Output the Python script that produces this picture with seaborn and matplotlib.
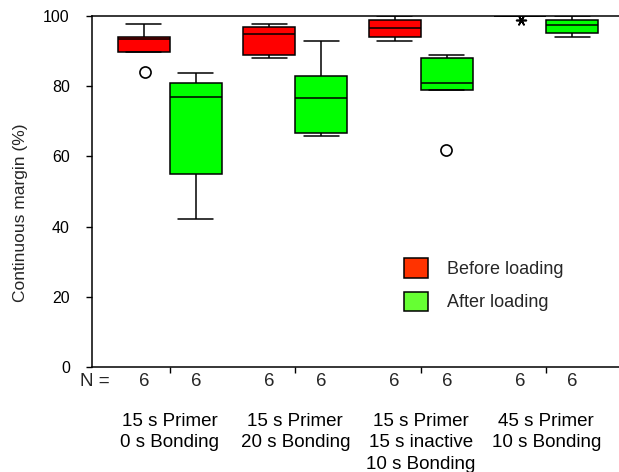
import numpy as np
import pandas as pd
import matplotlib
matplotlib.use("Agg")
import matplotlib.pyplot as plt
import matplotlib.transforms as mtransforms
import seaborn as sns

# ---- data ----
groups = ["15 s Primer\n0 s Bonding", "15 s Primer\n20 s Bonding",
          "15 s Primer\n15 s inactive\n10 s Bonding", "45 s Primer\n10 s Bonding"]
phases = ["Before loading", "After loading"]
n_per_box = [6, 6, 6, 6]

before_min = [89.8, 88.1, 93.0, 100.0]
before_q1 = [89.8, 88.9, 93.9, 100.0]
before_med = [93.4, 95.0, 96.5, 100.0]
before_q3 = [94.1, 96.8, 98.9, 100.0]
before_max = [97.8, 97.8, 100.0, 100.0]

after_min = [42.1, 65.9, 79.0, 94.0]
after_q1 = [55.0, 66.8, 79.0, 95.1]
after_med = [77.0, 76.5, 80.8, 97.5]
after_q3 = [80.8, 82.8, 88.1, 98.9]
after_max = [83.8, 93.0, 88.8, 100.0]

# outliers (circles) and extremes (asterisks)
out_group = [groups[0], groups[2]]
out_phase = ["Before loading", "After loading"]
out_value = [84.0, 61.8]
ext_group = [groups[3]]
ext_phase = ["Before loading"]
ext_value = [98.9]

# ---- build long table: five-number summary per box ----
rows = []
for i, g in enumerate(groups):
    for ph, arrs in (("Before loading", (before_min, before_q1, before_med, before_q3, before_max)),
                     ("After loading", (after_min, after_q1, after_med, after_q3, after_max))):
        for a in arrs:
            rows.append({"group": g, "phase": ph, "value": a[i]})
df = pd.DataFrame(rows)
df_out = pd.DataFrame({"group": out_group, "phase": out_phase, "value": out_value})
df_ext = pd.DataFrame({"group": ext_group, "phase": ext_phase, "value": ext_value})

sns.set_style("ticks")
plt.rcParams["font.family"] = ["Liberation Sans", "DejaVu Sans"]

fig = plt.figure(figsize=(6.19, 4.72), dpi=100)
ax = fig.add_axes([92 / 619, 105 / 472, 527 / 619, 351 / 472])

box_width = 0.83
palette = {"Before loading": "#FF0000", "After loading": "#00FF00"}
sns.boxplot(data=df, x="group", y="value", hue="phase", order=groups, hue_order=phases,
            palette=palette, saturation=1, width=box_width, gap=0, dodge=True,
            whis=(0, 100), showfliers=False, linecolor="black", linewidth=1.1,
            capwidths=0.28, ax=ax)

sns.stripplot(data=df_out, x="group", y="value", hue="phase", order=groups, hue_order=phases,
              palette={"Before loading": "white", "After loading": "white"},
              dodge=True, jitter=False, size=8, edgecolor="black", linewidth=1.2,
              legend=False, ax=ax, zorder=5)
sns.stripplot(data=df_ext, x="group", y="value", hue="phase", order=groups, hue_order=phases,
              palette={"Before loading": "black", "After loading": "black"},
              dodge=True, jitter=False, size=7, marker=(6, 2, 90), linewidth=1.2,
              legend=False, ax=ax, zorder=5)

ax.set_xlim(-0.62, 3.58)
ax.set_ylim(0, 100)
ax.set_yticks([0, 20, 40, 60, 80, 100])
ax.tick_params(axis="y", labelsize=11.5, length=4, width=1, pad=12, colors="black")
ax.tick_params(axis="x", labelsize=13.5, length=4, width=1, pad=29, colors="black")
for lab in ax.get_xticklabels():
    lab.set_linespacing(1.35)
ax.set_xlabel("")
ax.set_ylabel("Continuous margin (%)", fontsize=12.5)
ax.yaxis.set_label_coords(-0.121, 0.44)

for side in ("left", "bottom", "top"):
    ax.spines[side].set_visible(True)
    ax.spines[side].set_color("black")
    ax.spines[side].set_linewidth(1.1)
ax.spines["right"].set_visible(False)

# N row
trans = mtransforms.blended_transform_factory(ax.transData, ax.transAxes)
ax.text(-0.6, -0.04, "N =", transform=trans, ha="center", va="center", fontsize=13.5)
off = box_width / 4
for i, n in enumerate(n_per_box):
    for s in (-1, 1):
        ax.text(i + s * off, -0.04, str(n), transform=trans, ha="center", va="center", fontsize=13.5)

# legend
handles, labels = ax.get_legend_handles_labels()
leg = ax.legend(handles[:2], labels[:2], loc="upper left", bbox_to_anchor=(0.592, 0.31),
                frameon=False, fontsize=13, handlelength=1.33, handleheight=1.28,
                handletextpad=1.05, labelspacing=0.75, borderpad=0, borderaxespad=0)
for h, c in zip(leg.legend_handles, ["#FF3300", "#66FF33"]):
    h.set_facecolor(c)
    h.set_edgecolor("black")
    h.set_linewidth(1.1)

fig.savefig("out.png", dpi=100)
